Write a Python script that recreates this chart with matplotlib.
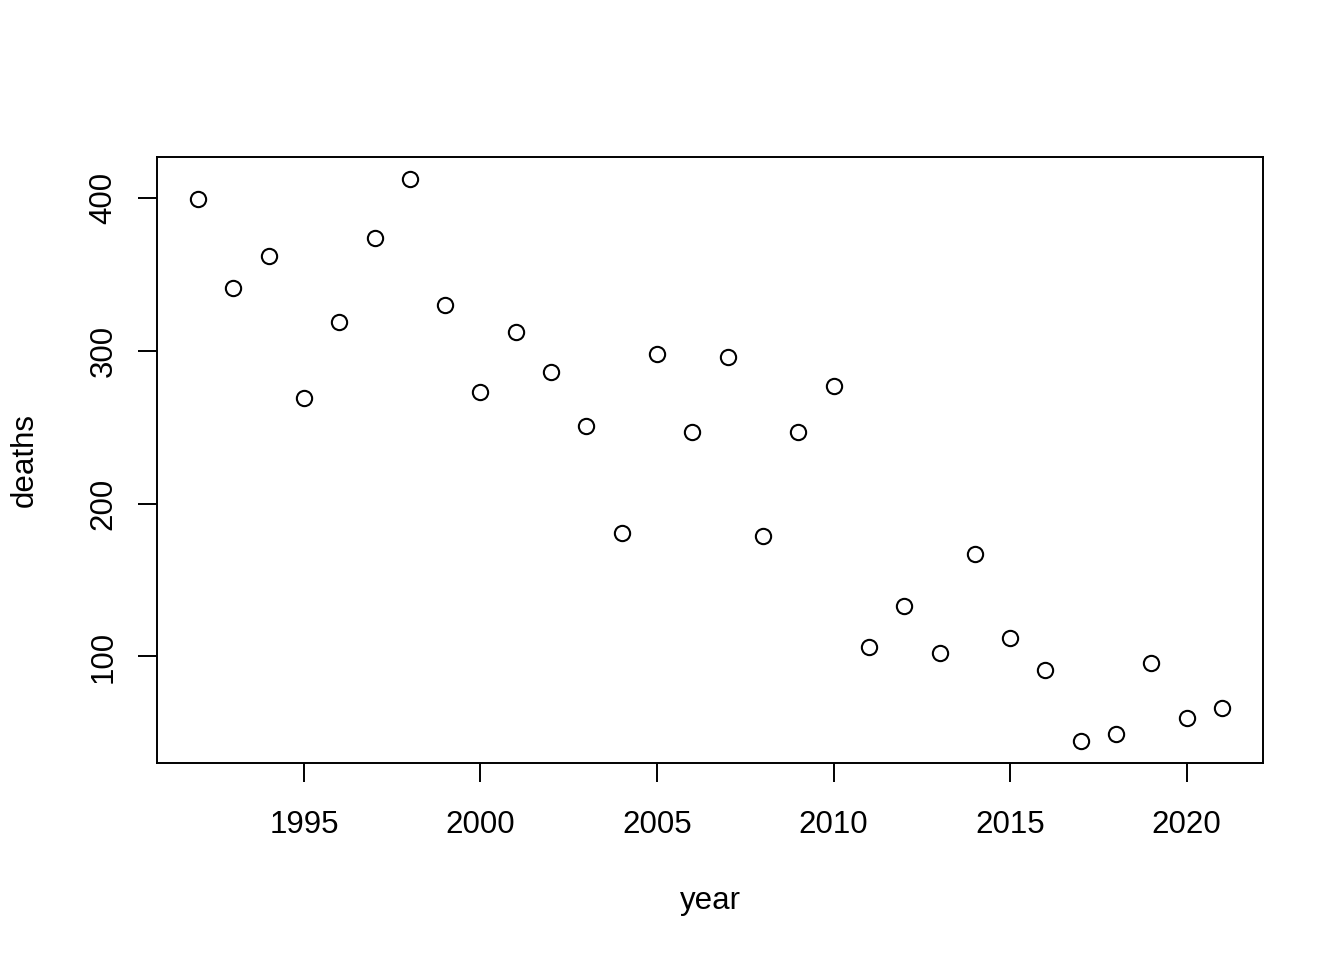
import numpy as np
import matplotlib.pyplot as plt

plt.rcParams['font.family'] = ['Liberation Sans', 'DejaVu Sans']

# muertes por año
year = list(range(1992, 2022))
deaths = [399, 341, 362, 269, 319, 374, 412, 330, 273, 312,
          286, 251, 181, 298, 247, 296, 179, 247, 277, 106,
          133, 102, 167, 112, 91, 45, 49, 96, 60, 66]

x_ticks = [1995, 2000, 2005, 2010, 2015, 2020]
y_ticks = [100, 200, 300, 400]

fig = plt.figure(figsize=(13.44, 9.6), dpi=100)
ax = fig.add_axes([157 / 1344, 1 - 763 / 960, 1106 / 1344, 606 / 960])

ax.plot(year, deaths, linestyle='none', marker='o', markersize=11,
        markerfacecolor='none', markeredgecolor='black', markeredgewidth=1.5)

# rango al estilo R (4% extra)
xr = max(year) - min(year)
yr = max(deaths) - min(deaths)
ax.set_xlim(min(year) - 0.04 * xr, max(year) + 0.04 * xr)
ax.set_ylim(min(deaths) - 0.04 * yr, max(deaths) + 0.04 * yr)

ax.set_xticks(x_ticks)
ax.set_yticks(y_ticks)
for s in ax.spines.values():
    s.set_linewidth(1.4)

ax.tick_params(axis='both', length=13.7, width=1.4, labelsize=22.5, color='black')
ax.tick_params(axis='x', pad=20)
ax.tick_params(axis='y', pad=14, labelrotation=90)
for lab in ax.get_yticklabels():
    lab.set_va('center')

ax.set_xlabel('year', fontsize=22.5)
ax.set_ylabel('deaths', fontsize=22.5)
ax.xaxis.set_label_coords(0.5, (763 - 901) / 606)
ax.xaxis.label.set_va('center')
ax.yaxis.set_label_coords((25 - 157) / 1106, 0.5)
ax.yaxis.label.set_va('center')

fig.savefig('out.png', dpi=100)
